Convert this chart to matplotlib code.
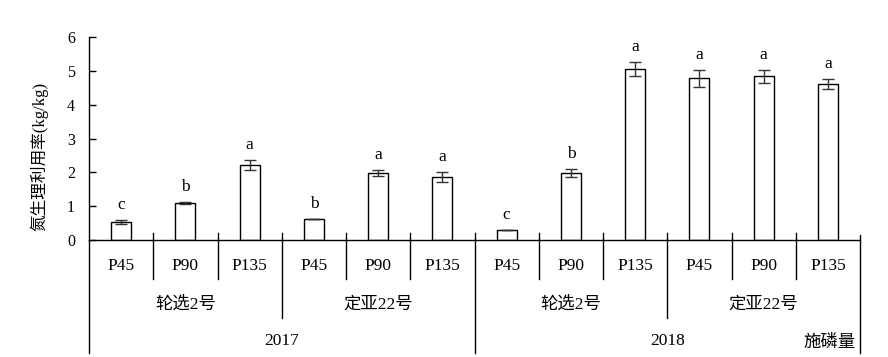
import numpy as np
import matplotlib
matplotlib.use('Agg')
import matplotlib.pyplot as plt

plt.rcParams['font.family'] = ['Liberation Serif', 'Noto Sans CJK SC']

years = ['2017', '2018']
cultivars = ['轮选2号', '定亚22号']
rates = ['P45', 'P90', 'P135']

# 2017 轮选2号, 2017 定亚22号, 2018 轮选2号, 2018 定亚22号
values = [0.54, 1.10, 2.22, 0.62, 1.98, 1.86, 0.30, 1.98, 5.05, 4.79, 4.85, 4.61]
errors = [0.06, 0.02, 0.15, 0.01, 0.09, 0.15, 0.00, 0.12, 0.21, 0.25, 0.19, 0.15]
letters = ['c', 'b', 'a', 'b', 'a', 'a', 'c', 'b', 'a', 'a', 'a', 'a']

n = len(values)
x = np.arange(n)

fig = plt.figure(figsize=(8.88, 3.57), dpi=100)
ax = fig.add_axes([89/888, 117/357, 771/888, 202.7/357])

ax.bar(x, values, width=0.31, color='white', edgecolor='black', linewidth=1.0)
ax.errorbar(x, values, yerr=errors, fmt='none', ecolor='#333333',
            elinewidth=1.0, capsize=4, capthick=1.0)
for xi, v, e, t in zip(x, values, errors, letters):
    ax.text(xi, v + e + 0.32, t, ha='center', va='baseline', fontsize=12.5)

ax.set_xlim(-0.5, n - 0.5)
ax.set_ylim(0, 6)
ax.set_yticks(range(7))
ax.tick_params(axis='y', direction='in', length=5, width=1, labelsize=11.5, pad=10)
ax.set_xticks([])
for s in ['top', 'right']:
    ax.spines[s].set_visible(False)
ax.spines['left'].set_linewidth(1)
ax.spines['bottom'].set_linewidth(1)

ax.set_ylabel('氮生理利用率(kg/kg)', fontsize=12)
ax.yaxis.set_label_coords(-0.053, 0.41)

# lines under the axis
kw = dict(color='black', lw=1, clip_on=False)
for b in range(n + 1):
    xb = b - 0.5
    if b == 0:
        ax.plot([xb, xb], [0, -3.35], **kw)
    elif b == n:
        ax.plot([xb, xb], [0.15, -3.35], **kw)
    elif b % 6 == 0:
        ax.plot([xb, xb], [0.2, -3.35], **kw)
    elif b % 3 == 0:
        ax.plot([xb, xb], [0.2, -2.3], **kw)
    else:
        ax.plot([xb, xb], [0.2, -1.15], **kw)

for i in range(n):
    ax.text(x[i], -0.78, rates[i % 3], ha='center', va='center', fontsize=12.5)
for j in range(4):
    ax.text(3 * j + 1, -1.92, cultivars[j % 2], ha='center', va='center', fontsize=12.5)
for k in range(2):
    ax.text(6 * k + 2.5, -3.0, years[k], ha='center', va='center', fontsize=12.5)
ax.text(11.43, -3.05, '施磷量', ha='right', va='center', fontsize=12.5)

fig.savefig('out.png', dpi=100)
